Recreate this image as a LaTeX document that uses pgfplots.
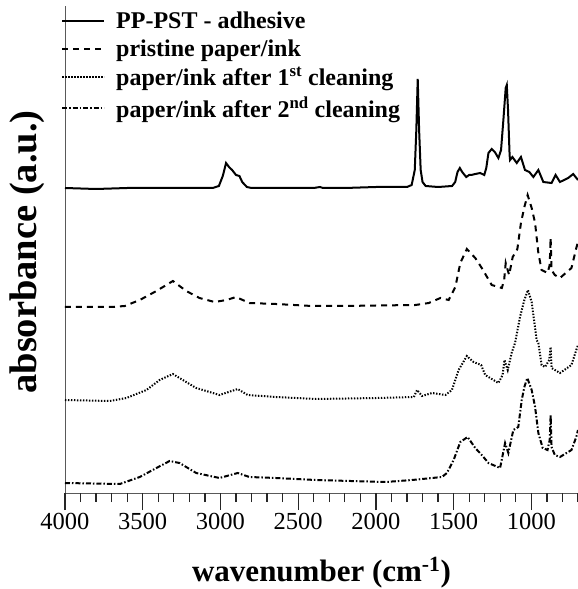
\documentclass[border=0pt]{standalone}
\usepackage{pgfplots}
\pgfplotsset{compat=1.18}
\usepackage{fontspec}
\setmainfont{Liberation Serif}
\usetikzlibrary{calc}

% spectra: wavenumber, absorbance (offset, a.u.)
\pgfplotstableread{
x y
4000 305
3800 304
3600 305
3400 305
3200 305
3050 305
3010 307
2985 317
2964 330
2945 326
2925 323
2900 318
2878 317
2860 311
2830 306
2800 305
2600 305
2400 305
2360 306
2340 305
2200 305
2000 306
1800 306
1770 308
1750 323
1740 363
1731 414
1722 363
1712 323
1700 311
1680 307
1600 306
1510 307
1490 311
1475 321
1460 325
1445 321
1419 316
1400 318
1387 318
1360 319
1329 320
1303 318
1290 325
1276 340
1255 344
1235 341
1212 335
1195 343
1180 373
1165 405
1158 408
1150 383
1140 338
1137 333
1122 336
1094 330
1067 336
1041 323
1013 321
987 316
955 323
923 311
870 310
844 318
816 311
763 315
731 319
700 313
}\adhesive

\pgfplotstableread{
x y
4000 186
3800 186
3700 186
3615 187
3519 193
3412 202
3306 212
3220 202
3135 195
3038 191
2960 193
2900 196
2814 190
2643 189
2410 187
2200 187
2000 187.5
1746 188
1660 190
1585 195
1532 193
1489 206
1457 230
1415 244
1361 235
1319 225
1255 208
1190 205
1175 213
1165 230
1143 218
1120 236
1090 244
1067 270
1045 286
1024 298
998 285
976 270
955 240
934 223
896 220
882 228
876 255
870 223
849 218
816 215
742 225
711 245
700 251
}\pristine

\pgfplotstableread{
x y
4000 93
3712 92
3605 95
3476 103
3391 113
3306 119
3242 113
3156 105
3006 98
2889 104
2825 98
2643 96
2387 94
2000 95
1756 96
1735 103
1703 97
1639 100
1553 98
1511 103
1468 123
1415 137
1372 131
1323 128
1297 118
1212 110
1185 118
1173 133
1152 123
1127 140
1105 150
1073 176
1045 193
1022 203
998 191
966 153
955 150
934 128
912 126
885 133
876 146
870 125
816 120
742 128
711 143
700 148
}\firstclean

\pgfplotstableread{
x y
4000 10
3647 9
3519 16
3412 25
3327 32
3263 30
3156 20
3006 15
2889 20
2814 16
2643 15
2387 13
1938 11
1767 13
1575 16
1543 20
1500 33
1457 51
1410 56
1361 45
1319 38
1276 30
1201 25
1169 50
1148 40
1116 63
1084 66
1062 93
1045 106
1026 115
998 103
976 86
955 60
927 45
896 43
882 53
876 78
870 46
849 38
816 36
742 43
711 56
700 63
}\secondclean

\begin{document}
\begin{tikzpicture}
\begin{axis}[
  name=main,
  scale only axis,
  width=513pt, height=487pt,
  x dir=reverse,
  xmin=700, xmax=4000,
  ymin=0, ymax=487,
  axis x line*=bottom, axis y line*=left,
  axis line style={-, line width=0.8pt, gray!70!black},
  xtick={1000,1500,...,4000},
  minor x tick num=4,
  ytick=\empty,
  xtick align=outside,
  major x tick style={draw=black, line width=1pt},
  minor x tick style={draw=black, line width=1pt},
  major tick length=17pt, minor tick length=9pt,
  /pgf/number format/assume math mode=true,
  xticklabel style={font=\fontsize{24.5}{24.5}\selectfont, /pgf/number format/1000 sep={}},
  xlabel={\bfseries wavenumber (cm\textsuperscript{-1})},
  ylabel={\bfseries absorbance (a.u.)},
  xlabel style={font=\fontsize{31}{31}\selectfont,
    at={(axis description cs:0.5,0)}, anchor=base, yshift=-88pt},
  ylabel style={font=\fontsize{38.5}{38.5}\selectfont,
    at={(axis description cs:-0.074,0.495)}, anchor=center},
  legend cell align=left,
  legend style={draw=none, fill=none, at={(0,1)}, anchor=north west,
    xshift=-7pt, yshift=-2pt,
    font=\fontsize{24}{24}\selectfont\bfseries,
    row sep=5.5pt, column sep=9pt, nodes={inner sep=2pt}},
  legend image code/.code={\draw[#1] (0pt,0pt) -- (42pt,0pt);},
]
\addplot[black, line width=2pt] table {\adhesive};
\addlegendentry{PP-PST - adhesive}
\addplot[black, line width=2pt, dash pattern=on 6pt off 5pt] table {\pristine};
\addlegendentry{pristine paper/ink}
\addplot[black, line width=2pt, dash pattern=on 1.4pt off 1.6pt] table {\firstclean};
\addlegendentry{paper/ink after 1\textsuperscript{st} cleaning}
\addplot[black, line width=2pt, dash pattern=on 5pt off 2pt on 1.5pt off 2pt] table {\secondclean};
\addlegendentry{paper/ink after 2\textsuperscript{nd} cleaning}
\end{axis}
% tick marks below the x axis as thin filled bars (every 100 cm-1, longer every 500)
\foreach \i in {0,...,33}{
  \pgfmathsetmacro{\len}{ifthenelse(mod(\i,5)==0,17,9)}
  \fill[black!85] ($(main.south west)+(\i*15.545pt-0.6pt,0.4pt)$) rectangle ++(1.2pt,-\len pt);
}
\pgfresetboundingbox
\useasboundingbox ($(main.south west)+(-65pt,-96pt)$) rectangle ($(main.north east)+(0pt,6pt)$);
\end{tikzpicture}
\end{document}
